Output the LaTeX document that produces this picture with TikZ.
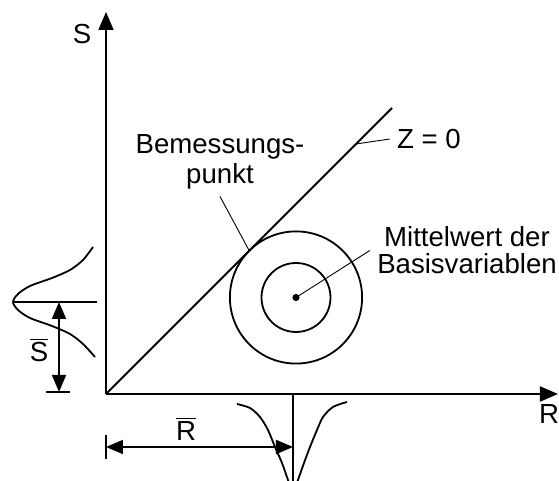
\documentclass[tikz,border=0pt]{standalone}
\usepackage{fontspec}
\setmainfont{Liberation Sans}
\usetikzlibrary{arrows.meta}
\tikzset{
  ax/.style={-{Triangle[length=9pt,width=7.5pt]},line width=0.9pt},
  dm/.style={{Triangle[length=8.5pt,width=7pt]}-{Triangle[length=8.5pt,width=7pt]},line width=0.9pt},
  ld/.style={line width=0.45pt},
  crv/.style={line width=0.9pt},
  lbl/.style={font=\fontsize{13.8}{14.7}\selectfont,align=center,inner sep=3.5pt}
}

\begin{document}
\begin{tikzpicture}[x=0.5pt,y=0.5pt]
\useasboundingbox (0,0) rectangle (559,481);
% axes
\coordinate (O) at (106,87);
\coordinate (Stop) at (106,469);
\coordinate (Rend) at (558,87);
\draw[ax] (O) -- (Stop);
\draw[ax] (O) -- (Rend);
\node[lbl] (sl) at (82,447) {S};
\node[lbl] (rl) at (549,67) {R};
% limit state line Z = 0
\coordinate (Zend) at (392,373);
\coordinate (zp) at (356,337);
\draw[crv] (O) -- (Zend);
\node[lbl] (zl) at (429,342) {Z = 0};
\draw[ld] (zp) -- (zl.west);
% circles round the mean
\coordinate (M) at (296,183.5);
\coordinate (T) at (249.25,230.25);
\draw[crv] (M) circle[radius=33.05pt];
\draw[crv] (M) circle[radius=17.25pt];
\fill (M) circle[radius=1.8pt];
\node[lbl] (bp) at (220,319) {Bemessungs-\\punkt};
\draw[ld] (bp.south) -- (T);
\node[lbl,font=\fontsize{13.8}{13.4}\selectfont] (mw) at (467,230.5) {Mittelwert der\\Basisvariablen};
\draw[ld] (mw.west) -- (M);
% density of S
\coordinate (Sp) at (13,179);
\coordinate (Sq) at (97,179);
\draw[crv] plot[smooth] coordinates {(93,234) (83,221) (70,211) (52,203) (30,195) (18,187)
  (13,179) (18,171) (30,163) (52,155) (70,147) (83,137) (95,124)};
\draw[crv] (Sp) -- (Sq);
\coordinate (Sm) at (59,179);
\coordinate (Sb) at (59,89);
\draw[dm] (Sm) -- (Sb);
\draw[crv] (46,89) -- (70,89);
\node[lbl] (sbar) at (39,131) {$\overline{\mbox{S}}$};
% density of R
\coordinate (Rm) at (293,87);
\coordinate (Rbot) at (293,0);
\draw[crv] plot[smooth] coordinates {(237,77) (250,73) (260,64) (268,51) (275,34) (282,18) (288,1)
  (293,-12) (298,1) (304,18) (310,34) (317,51) (323,64) (333,74) (347,79)};
\draw[crv] (Rm) -- (Rbot);
\coordinate (Ra) at (106,34);
\coordinate (Rb) at (293,34);
\draw[dm] (Ra) -- (Rb);
\draw[crv] (106,46) -- (106,22);
\node[lbl] (rbar) at (186,52) {$\overline{\mbox{R}}$};
\end{tikzpicture}
\end{document}
